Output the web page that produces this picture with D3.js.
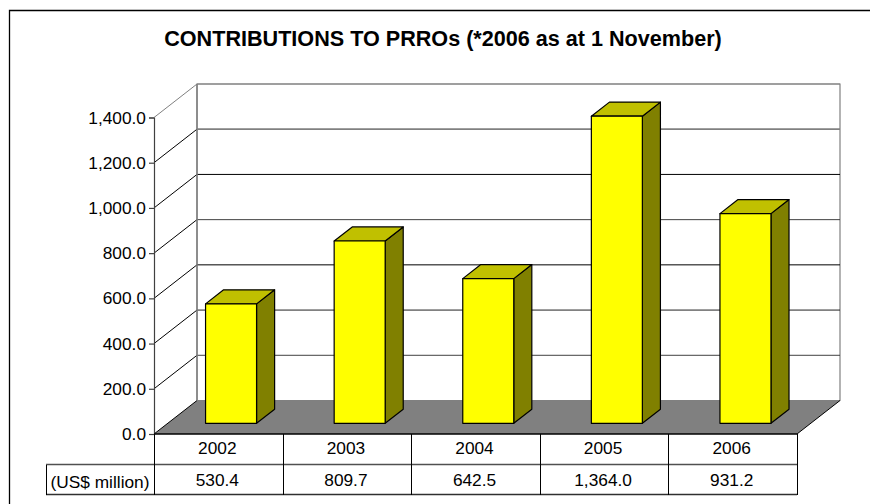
<!DOCTYPE html>
<html><head><meta charset="utf-8">
<script src="https://cdn.jsdelivr.net/npm/d3@7"></script>
<style>html,body{margin:0;padding:0;background:#fff}svg{display:block}text{font-family:"Liberation Sans",Arial,sans-serif;fill:#000}</style>
</head><body><svg id="c" width="870" height="504"></svg>
<script>
const categories=["2002","2003","2004","2005","2006"];
const values=[530.4,809.7,642.5,1364.0,931.2];
const valueLabels=["530.4","809.7","642.5","1,364.0","931.2"];
const yTicks=[0,200,400,600,800,1000,1200,1400];
const rowLabel="(US$ million)";
const titleText="CONTRIBUTIONS TO PRROs (*2006 as at 1 November)";

const svg=d3.select("#c");
const W=870,H=504;
svg.append("rect").attr("width",W).attr("height",H).attr("fill","#fff");
svg.append("path").attr("d","M870,10.5H9.5V504").attr("fill","none").attr("stroke","#000").attr("stroke-width",1.3);

const x=d3.scaleBand().domain(categories).range([154,797]).paddingInner(0).paddingOuter(0);
const y=d3.scaleLinear().domain([0,1400]).range([434,117.5]);
const yBar=d3.scaleLinear().domain([0,1400]).range([434,118.8]);
const DX=43,DY=-33.5;
const px=(xv,yv,d)=>[xv+DX*d,yv+DY*d];
const path=pts=>d3.line()(pts)+"Z";
const gridStroke=t=>({1400:"#808080",1200:"#808080",1000:"#000",800:"#404040",600:"#000",400:"#202020",200:"#404040"})[t];
const gridWidth=t=>t===1200?1.8:t===1400?1.2:1;

svg.append("text").attr("x",443).attr("y",45.5).attr("text-anchor","middle").attr("font-size",21.6).attr("font-weight","bold").text(titleText);

const x0=x.range()[0],x1=x.range()[1];
svg.append("path").attr("d",path([px(x0,y(1400),1),px(x1,y(1400),1),px(x1,y(0),1),px(x0,y(0),1)])).attr("fill","#fff").attr("stroke","#808080").attr("stroke-width",1.2);
svg.append("path").attr("d",path([px(x0,y(0),0),px(x1,y(0),0),px(x1,y(0),1),px(x0,y(0),1)])).attr("fill","#808080").attr("stroke","none");
svg.append("path").attr("d",d3.line()([px(x1,y(0),0),px(x1,y(0),1)])).attr("stroke","#000").attr("fill","none");
yTicks.slice(1).forEach(t=>{
  svg.append("path").attr("fill","none").attr("stroke",t===1400?"#808080":"#000").attr("stroke-width",1)
   .attr("d",d3.line()([px(x0,y(t),0),px(x0,y(t),1)]));
  svg.append("path").attr("fill","none").attr("stroke",gridStroke(t)).attr("stroke-width",gridWidth(t))
   .attr("d",d3.line()([px(x0,y(t),1),px(x1,y(t),1)]));
});
svg.append("path").attr("fill","none").attr("stroke","#000").attr("d",d3.line()([px(x0,y(0),0),px(x0,y(0),1)]));
svg.append("line").attr("x1",px(x0,0,1)[0]).attr("x2",px(x0,0,1)[0]).attr("y1",px(0,y(1400),1)[1]).attr("y2",px(0,y(0),1)[1]).attr("stroke","#808080").attr("stroke-width",1.5);

const dF=0.32,dB=0.74,barW=51,shift=-1;
categories.forEach((c,i)=>{
  const cx=x(c)+x.bandwidth()/2+shift;
  const l=cx-barW/2,r=cx+barW/2,b=yBar(0),t=yBar(values[i]);
  const g=svg.append("g").attr("stroke","#000").attr("stroke-width",1.2).attr("stroke-linejoin","round");
  g.append("path").attr("fill","#808000").attr("d",path([px(r,t,dF),px(r,t,dB),px(r,b,dB),px(r,b,dF)]));
  g.append("path").attr("fill","#c0c000").attr("d",path([px(l,t,dF),px(l,t,dB),px(r,t,dB),px(r,t,dF)]));
  g.append("path").attr("fill","#ffff00").attr("d",path([px(l,t,dF),px(r,t,dF),px(r,b,dF),px(l,b,dF)]));
});

const axis=d3.axisLeft(y).tickValues(yTicks).tickFormat(d3.format(",.1f")).tickSize(5).tickPadding(3);
const ag=svg.append("g").attr("transform",`translate(${x0},0)`).call(axis);
ag.selectAll("path,line").attr("stroke","#404040").attr("stroke-width",1.2);
ag.selectAll("text").attr("font-size",17.3).attr("font-family",'"Liberation Sans",Arial,sans-serif').attr("fill","#000");

const rowY=[434,465,495];
const t=svg.append("g").attr("stroke","#000").attr("stroke-width",1).attr("fill","none");
t.append("line").attr("x1",x0).attr("x2",x1).attr("y1",rowY[0]).attr("y2",rowY[0]).attr("stroke-width",1.5);
t.append("line").attr("x1",46).attr("x2",x1).attr("y1",rowY[1]-.5).attr("y2",rowY[1]-.5).attr("stroke","#505050").attr("stroke-width",1.3);
t.append("line").attr("x1",46).attr("x2",x1).attr("y1",rowY[2]-.5).attr("y2",rowY[2]-.5).attr("stroke","#303030").attr("stroke-width",1.3);
t.append("line").attr("x1",46.5).attr("x2",46.5).attr("y1",rowY[1]).attr("y2",rowY[2]);
categories.concat(["end"]).forEach((c,i)=>{
  const xx=Math.round(x0+i*x.bandwidth())+.5;
  t.append("line").attr("x1",xx).attr("x2",xx).attr("y1",rowY[0]).attr("y2",rowY[2]);
});
categories.forEach((c,i)=>{
  const cx=x(c)+x.bandwidth()/2-1;
  svg.append("text").attr("x",cx).attr("y",454).attr("text-anchor","middle").attr("font-size",17.3).text(c);
  svg.append("text").attr("x",cx).attr("y",486).attr("text-anchor","middle").attr("font-size",17.3).text(valueLabels[i]);
});
svg.append("text").attr("x",100).attr("y",488).attr("text-anchor","middle").attr("font-size",17.3).text(rowLabel);
</script></body></html>
